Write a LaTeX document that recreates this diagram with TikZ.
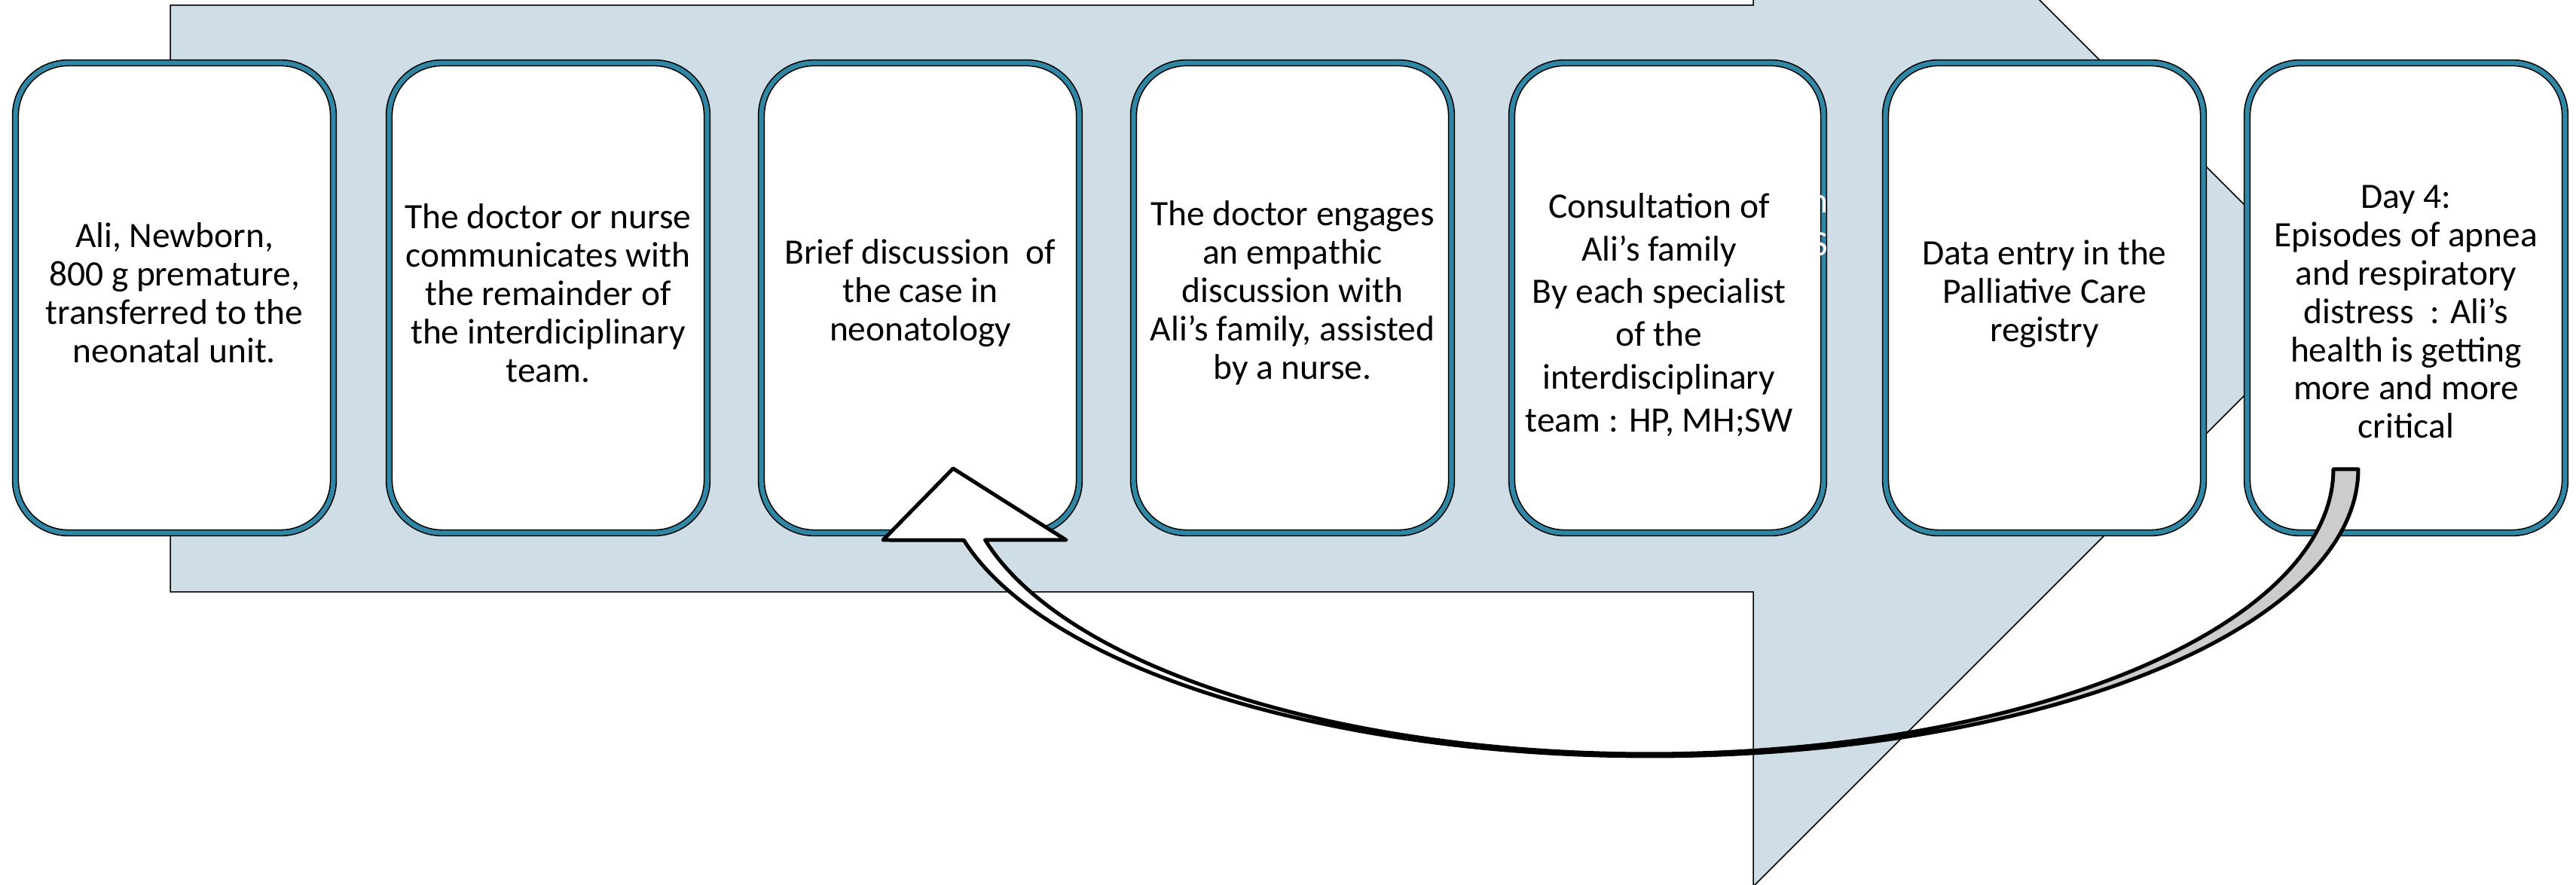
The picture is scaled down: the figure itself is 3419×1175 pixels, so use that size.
\documentclass[tikz,border=0pt]{standalone}
\usepackage{fontspec}
\setmainfont{Carlito}
\definecolor{arrowfill}{RGB}{207,221,231}
\definecolor{cardblue}{RGB}{49,134,163}
\definecolor{ribbongray}{RGB}{204,204,204}
\begin{document}
\begin{tikzpicture}[x=0.1mm,y=-0.1mm,
  card/.style={draw=black, line width=0.16mm, double=cardblue, double distance=0.62mm,
    fill=white, rounded corners=7mm, minimum width=42.2mm, minimum height=62.4mm, inner sep=0pt},
  cardtext/.style={align=center, font=\fontsize{13.5pt}{14.5pt}\selectfont, inner sep=0pt},
  cardtextwide/.style={align=center, font=\fontsize{13.5pt}{16.2pt}\selectfont, inner sep=0pt},
  ghost/.style={text=white, font=\fontsize{13.5pt}{16.2pt}\selectfont, inner sep=0pt, anchor=base east},
  bigarrow/.style={fill=arrowfill, draw=black, line width=0.15mm},
  ribbonline/.style={draw=black, line width=0.5mm, line join=round}]
\useasboundingbox (0,0) rectangle (3419,1175);
\begin{scope}
\clip (0,0) rectangle (3419,1175);
% big background arrow
\draw[bigarrow] (226,7) -- (2327,7) -- (2327,-380) -- (3105.5,398.5) -- (2327,1177)
  -- (2327,786) -- (226,786) -- cycle;

% cards
\node[card] (b1) at (231.5,395.5) {};
\node[card] (b2) at (727.5,395.5) {};
\node[card] (b3) at (1221.5,395.5) {};
\node[card] (b4) at (1715.5,395.5) {};
\node[card, minimum width=41.4mm] (b5) at (2213.5,395.5) {};
\node[card] (b6) at (2713.5,395.5) {};
\node[card] (b7) at (3193.5,395.5) {};

\node[cardtext] (t1) at (231.5,389) {Ali, Newborn,\\800 g premature,\\transferred to the\\neonatal unit.};
\node[cardtext] (t2) at (727.5,389) {The doctor or nurse\\communicates with\\the remainder of\\the interdiciplinary\\team.};
\node[cardtext] (t3) at (1221.5,389) {Brief discussion~ of\\the case in\\neonatology};
\node[cardtext] (t4) at (1715.5,389) {The doctor engages\\an empathic\\discussion with\\Ali’s family, assisted\\by a nurse.};
\node[cardtextwide] (t5) at (2202,418) {Consultation of\\Ali’s family\\By each specialist\\of the\\interdisciplinary\\team : HP, MH;SW};
\node[cardtext] (t6) at (2713.5,390) {Data entry in the\\Palliative Care\\registry};
\node[cardtext] (t7) at (3193.5,414) {Day 4:\\Episodes of apnea\\and respiratory\\distress~ : Ali’s\\health is getting\\more and more\\critical};

% white letters peeking out at the right edge of card 5
\node[ghost] (g1) at (2427,283) {n};
\node[ghost] (g2) at (2427,340) {S};

% curved block arrow from card 7 back to card 3
\coordinate (capin) at (3097,623);
\coordinate (capout) at (3130,623);
\coordinate (headL) at (1172,717);
\coordinate (headT) at (1265,622);
\coordinate (headR) at (1415,717);
\coordinate (shaftin) at (1307.5,717);
\fill[ribbongray] (capin) -- (capout)
  -- plot[domain=0:90,samples=60] ({2190+940*cos(\x)},{623+381*sin(\x)})
  -- plot[domain=90:0,samples=60] ({2188+909*cos(\x)},{623+378*sin(\x)}) -- cycle;
\fill[white] plot[domain=90:165.7,samples=60] ({2190+940*cos(\x)},{623+381*sin(\x)})
  -- (headL) -- (headT) -- (headR) -- (shaftin)
  -- plot[domain=165.6:90,samples=60] ({2188+909*cos(\x)},{623+378*sin(\x)}) -- cycle;
\draw[ribbonline] (capin) -- (capout)
  -- plot[domain=0:165.7,samples=140] ({2190+940*cos(\x)},{623+381*sin(\x)})
  -- (headL) -- (headT) -- (headR) -- (shaftin)
  -- plot[domain=165.6:0,samples=140] ({2188+909*cos(\x)},{623+378*sin(\x)}) -- cycle;
\end{scope}
\end{tikzpicture}
\end{document}
